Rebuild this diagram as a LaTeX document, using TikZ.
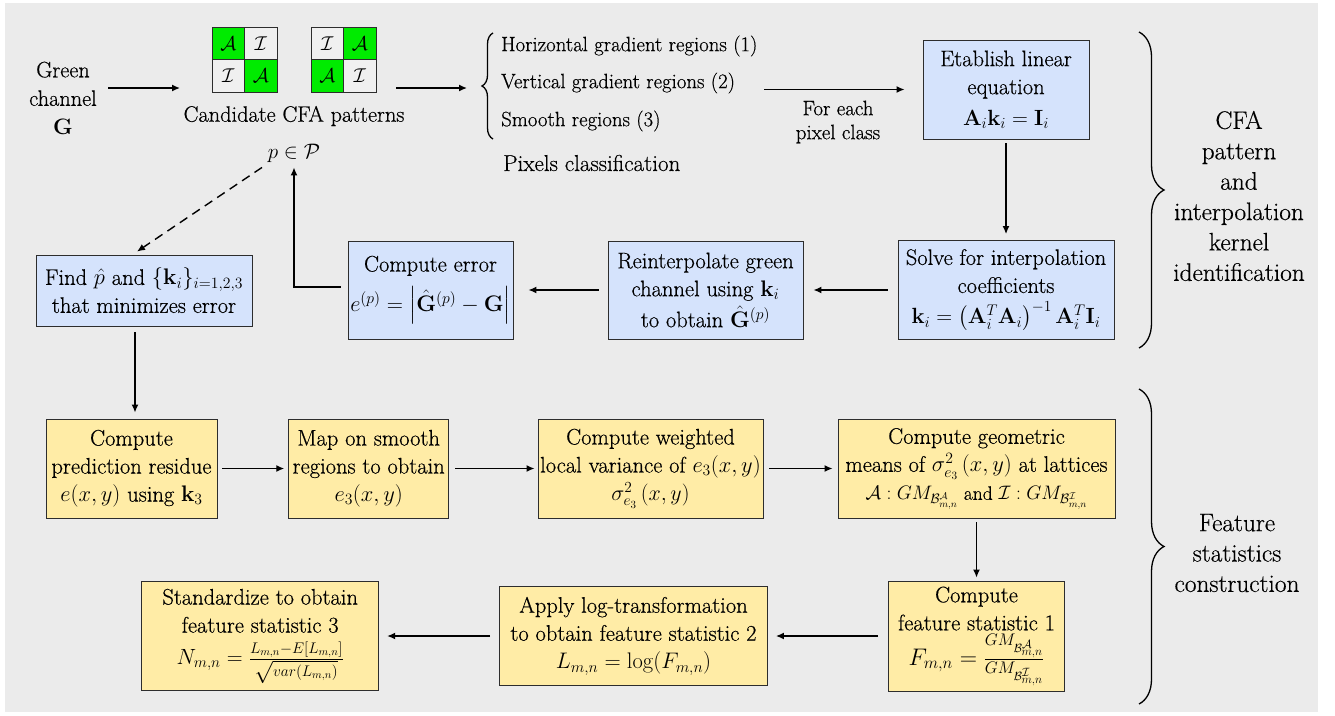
\RequirePackage{fix-cm}
\documentclass[tikz,border=0pt]{standalone}
\usepackage{amsmath}
\usepackage[no-math]{fontspec}
\setmainfont{Latin Modern Roman}[FakeBold=0.45]
\usetikzlibrary{arrows.meta,decorations.pathreplacing,calc}
\definecolor{bgc}{RGB}{235,235,235}
\definecolor{bluec}{RGB}{213,227,252}
\definecolor{yelc}{RGB}{255,236,166}
\definecolor{grn}{RGB}{0,235,0}
\definecolor{boxline}{RGB}{45,45,45}
\definecolor{cellw}{RGB}{240,240,240}
\newcommand{\mfs}{\fontsize{22}{28}\selectfont}
\newcommand{\sfs}{\fontsize{19.5}{28}\selectfont}
\newcommand{\bfs}{\fontsize{24}{28}\selectfont}
\begin{document}
\begin{tikzpicture}[x=1pt,y=-1pt,
  box/.style={draw=boxline,line width=0.9pt,align=center,inner sep=2pt,font=\fontsize{22.5}{28}\selectfont},
  bbox/.style={box,fill=bluec},
  ybox/.style={box,fill=yelc},
  txt/.style={align=center,inner sep=0pt,font=\fontsize{22.3}{28.5}\selectfont},
  lbl/.style={align=left,inner sep=0pt,font=\fontsize{20.8}{24}\selectfont},
  side/.style={align=center,inner sep=0pt,font=\fontsize{25.3}{30.4}\selectfont},
  cell/.style={draw=boxline,line width=0.8pt,minimum size=32.5pt,inner sep=0pt,font=\fontsize{20}{24}\selectfont},
  arr/.style={-{Latex[length=8pt,width=7pt]},line width=1.4pt},
  bracestyle/.style={decorate,line width=1.3pt},
]
\useasboundingbox (0,0) rectangle (1335,715);
\fill[bgc] (5,3) rectangle (1318,712);

% top row
\node[txt] (green) at (63,98) {Green\\channel\\$\mathbf{G}$};

\node[cell,fill=grn]   (a11) at (228.25,43.25) {$\mathcal{A}$};
\node[cell,fill=cellw] (a12) at (260.75,43.25) {$\mathcal{I}$};
\node[cell,fill=cellw] (a21) at (228.25,75.75) {$\mathcal{I}$};
\node[cell,fill=grn]   (a22) at (260.75,75.75) {$\mathcal{A}$};
\node[cell,fill=cellw] (b11) at (327.25,43.25) {$\mathcal{I}$};
\node[cell,fill=grn]   (b12) at (359.75,43.25) {$\mathcal{A}$};
\node[cell,fill=grn]   (b21) at (327.25,75.75) {$\mathcal{A}$};
\node[cell,fill=cellw] (b22) at (359.75,75.75) {$\mathcal{I}$};

\node[txt] (cand) at (294,116) {Candidate CFA patterns};
\node[txt,font=\fontsize{21}{24}\selectfont] (p) at (294,153) {$p\in\mathcal{P}$};

\node[lbl,anchor=west] (cls1) at (501,46) {Horizontal gradient regions (1)};
\node[lbl,anchor=west] (cls2) at (501,83) {Vertical gradient regions (2)};
\node[lbl,anchor=west] (cls3) at (501,121) {Smooth regions (3)};
\node[txt,anchor=west,font=\fontsize{23}{28}\selectfont] (pcl) at (503,163) {Pixels classification};
\draw[bracestyle,decoration={brace,amplitude=11pt}] (493,139) -- (493,33);

\coordinate (g1s) at (108,88);
\coordinate (g1e) at (180,88);
\coordinate (g2s) at (396,88);
\coordinate (g2e) at (467,88);
\draw[arr] (g1s) -- (g1e);
\draw[arr] (g2s) -- (g2e);

\node[lbl,align=center,font=\fontsize{20.9}{24}\selectfont] (foreach) at (838,122) {For each\\pixel class};

\node[bbox,minimum width=166pt,minimum height=99pt] (estab) at (1006,89.5)
  {Etablish linear\\equation\\[3pt]\mfs$\mathbf{A}_i\mathbf{k}_i=\mathbf{I}_i$};
\node[bbox,minimum width=216pt,minimum height=99pt] (solve) at (1006,290)
  {Solve for interpolation\\coefficients\\[3pt]\mfs$\mathbf{k}_i=\left(\mathbf{A}_i^T\mathbf{A}_i\right)^{-1}\mathbf{A}_i^T\mathbf{I}_i$};
\node[bbox,minimum width=195pt,minimum height=98pt] (reint) at (705.5,290)
  {Reinterpolate green\\channel using $\mathbf{k}_i$\\[3pt]to obtain $\hat{\mathbf{G}}^{(p)}$};
\node[bbox,minimum width=165pt,minimum height=98pt] (err) at (430.5,290)
  {Compute error\\[10pt]$e^{(p)}=\left|\hat{\mathbf{G}}^{(p)}-\mathbf{G}\right|$};
\node[bbox,minimum width=216pt,minimum height=71pt] (find) at (144,290.5)
  {Find $\hat{p}$ and $\{\mathbf{k}_i\}_{i=1,2,3}$\\that minimizes error};

\node[side] (cfaid) at (1239,196) {CFA\\pattern\\and\\interpolation\\kernel\\identification};
\draw[bracestyle,decoration={brace,amplitude=25pt}] (1139,32) -- (1139,348);

% bottom rows
\node[ybox,minimum width=171pt,minimum height=99pt] (resid) at (131.5,468.5)
  {Compute\\prediction residue\\$e(x,y)$ using $\mathbf{k}_3$};
\node[ybox,minimum width=160pt,minimum height=99pt] (mapb) at (368.7,468.5)
  {Map on smooth\\regions to obtain\\$e_3(x,y)$};
\node[ybox,minimum width=225pt,minimum height=99pt] (wvar) at (650.5,468.5)
  {Compute weighted\\local variance of $e_3(x,y)$\\\mfs$\sigma^2_{e_3}\left(x,y\right)$};
\node[ybox,minimum width=277pt,minimum height=99pt] (geo) at (976.5,468.5)
  {Compute geometric\\means of $\sigma^2_{e_3}\left(x,y\right)$ at lattices\\\sfs$\mathcal{A}:GM_{\mathcal{B}^{\mathcal{A}}_{m,n}}$ and\ $\mathcal{I}:GM_{\mathcal{B}^{\mathcal{I}}_{m,n}}$};
\node[ybox,minimum width=176pt,minimum height=110pt] (fs1) at (976.5,636)
  {Compute\\feature statistic 1\\[3pt]\bfs$F_{m,n}=\frac{GM_{\mathcal{B}^{\mathcal{A}}_{m,n}}}{GM_{\mathcal{B}^{\mathcal{I}}_{m,n}}}$};
\node[ybox,minimum width=268pt,minimum height=99pt] (logt) at (633.5,636)
  {Apply log-transformation\\to obtain feature statistic 2\\$L_{m,n}=\log(F_{m,n})$};
\node[ybox,minimum width=237pt,minimum height=109pt] (stdz) at (260.2,636)
  {Standardize to obtain\\feature statistic 3\\[4pt]\mfs$N_{m,n}=\frac{L_{m,n}-E[L_{m,n}]}{\sqrt{var(L_{m,n})}}$};

\node[side] (featc) at (1237,553) {Feature\\statistics\\construction};
\draw[bracestyle,decoration={brace,amplitude=25pt}] (1139,389) -- (1139,704);

% connectors
\draw[arr,shorten <=29pt,shorten >=18pt] (cls2.east |- estab.west) -- (estab.west);
\draw[arr,shorten <=4pt,shorten >=6pt] (estab.south) -- (solve.north);
\draw[arr,shorten <=10pt,shorten >=10pt] (solve.west) -- (reint.east);
\draw[arr,shorten <=9pt,shorten >=15pt] (reint.west) -- (err.east);
\draw[arr] ([xshift=-7pt,yshift=3pt]err.west) -| ([yshift=-5pt]p.south);
\draw[arr,dashed,dash pattern=on 9pt off 6pt] ([xshift=-32pt,yshift=-5pt]p.south) -- ([xshift=-7pt,yshift=3pt]find.north);
\draw[arr,shorten <=6pt,shorten >=6pt] ([xshift=-9pt]find.south) -- ([xshift=-9pt]find.south |- resid.north);
\draw[arr,shorten <=5pt,shorten >=4pt] (resid.east) -- (mapb.west);
\draw[arr,shorten <=6pt,shorten >=3pt] (mapb.east) -- (wvar.west);
\draw[arr,shorten <=6pt,shorten >=5pt] (wvar.east) -- (geo.west);
\draw[arr,shorten <=4pt,shorten >=3pt] (geo.south) -- (fs1.north);
\draw[arr,shorten <=10pt,shorten >=8pt] (fs1.west) -- (logt.east);
\draw[arr,shorten <=9pt,shorten >=8pt] (logt.west) -- (stdz.east);
\end{tikzpicture}
\end{document}
